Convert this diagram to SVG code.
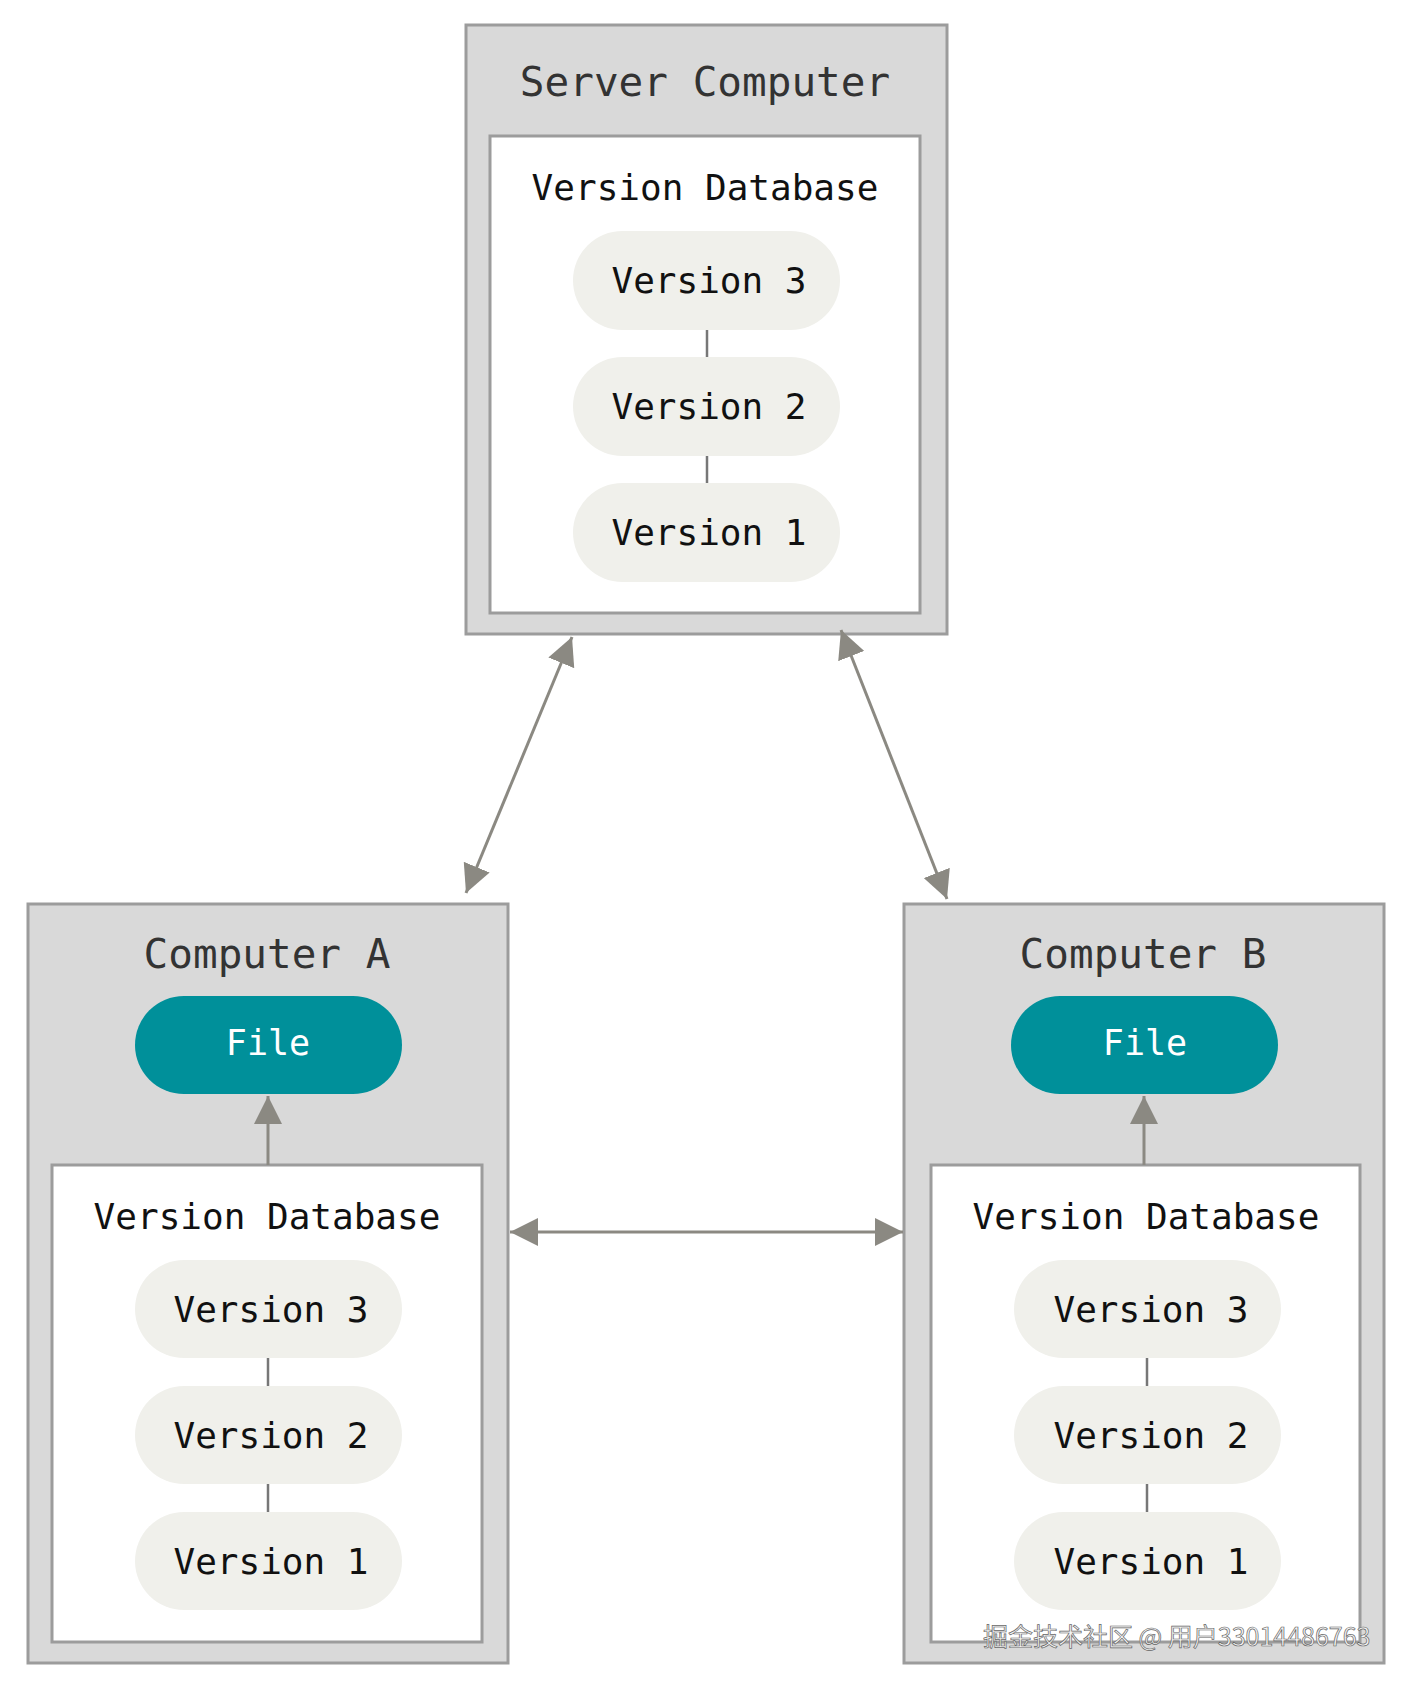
<svg xmlns="http://www.w3.org/2000/svg" width="1413" height="1692" viewBox="0 0 1413 1692">
  <style>
    .outer { fill: #d9d9d9; stroke: #9c9c9c; stroke-width: 3; }
    .inner { fill: #ffffff; stroke: #9c9c9c; stroke-width: 3; }
    .pill { fill: #f0f0eb; }
    .file { fill: #00909a; }
    .title { font-family: "DejaVu Sans Mono", "Liberation Mono", monospace; font-size: 41px; fill: #333333; text-anchor: middle; }
    .label { font-family: "DejaVu Sans Mono", "Liberation Mono", monospace; font-size: 36px; fill: #111111; text-anchor: middle; }
    .filelabel { font-family: "DejaVu Sans Mono", "Liberation Mono", monospace; font-size: 35px; fill: #ffffff; text-anchor: middle; }
    .link { stroke: #777777; stroke-width: 2.5; fill: none; }
    .arrow { stroke: #8b8982; stroke-width: 3; fill: none; }
    .wm { font-family: "Noto Sans CJK SC", "Liberation Sans", sans-serif; font-size: 25px; fill: #f4f4f4; stroke: #666666; stroke-width: 0.7; }
  </style>
  <defs>
    <marker id="ah" markerUnits="userSpaceOnUse" markerWidth="28" markerHeight="28" viewBox="0 0 27 27" refX="27" refY="13.5" orient="auto-start-reverse">
      <path d="M0,0 L27,13.5 L0,27 z" fill="#8b8982"/>
    </marker>
  </defs>

  <rect width="1413" height="1692" fill="#ffffff"/>

  <g id="server">
    <rect class="outer" x="466" y="25" width="481" height="609"/>
    <text class="title" x="705" y="96">Server Computer</text>
    <rect class="inner" x="490" y="136" width="430" height="477"/>
    <text class="label" x="705" y="200">Version Database</text>
    <line class="link" x1="707" y1="330" x2="707" y2="357"/>
    <line class="link" x1="707" y1="456" x2="707" y2="483"/>
    <g id="server-v3"><rect class="pill" x="573" y="231" width="267" height="99" rx="49.5"/><text class="label" x="709" y="293">Version 3</text></g>
    <g id="server-v2"><rect class="pill" x="573" y="357" width="267" height="99" rx="49.5"/><text class="label" x="709" y="419">Version 2</text></g>
    <g id="server-v1"><rect class="pill" x="573" y="483" width="267" height="99" rx="49.5"/><text class="label" x="709" y="545">Version 1</text></g>
  </g>

  <g id="computer-a">
    <rect class="outer" x="28" y="904" width="480" height="759"/>
    <text class="title" x="267" y="968">Computer A</text>
    <g id="a-file"><rect class="file" x="135" y="996" width="267" height="98" rx="49"/><text class="filelabel" x="268" y="1055">File</text></g>
    <rect class="inner" x="52" y="1165" width="430" height="477"/>
    <text class="label" x="267" y="1229">Version Database</text>
    <line class="link" x1="268" y1="1358" x2="268" y2="1386"/>
    <line class="link" x1="268" y1="1484" x2="268" y2="1512"/>
    <g id="a-v3"><rect class="pill" x="135" y="1260" width="267" height="98" rx="49"/><text class="label" x="271" y="1322">Version 3</text></g>
    <g id="a-v2"><rect class="pill" x="135" y="1386" width="267" height="98" rx="49"/><text class="label" x="271" y="1448">Version 2</text></g>
    <g id="a-v1"><rect class="pill" x="135" y="1512" width="267" height="98" rx="49"/><text class="label" x="271" y="1574">Version 1</text></g>
  </g>

  <g id="computer-b">
    <rect class="outer" x="904" y="904" width="480" height="759"/>
    <text class="title" x="1143" y="968">Computer B</text>
    <g id="b-file"><rect class="file" x="1011" y="996" width="267" height="98" rx="49"/><text class="filelabel" x="1145" y="1055">File</text></g>
    <rect class="inner" x="931" y="1165" width="429" height="477"/>
    <text class="label" x="1146" y="1229">Version Database</text>
    <line class="link" x1="1147" y1="1358" x2="1147" y2="1386"/>
    <line class="link" x1="1147" y1="1484" x2="1147" y2="1512"/>
    <g id="b-v3"><rect class="pill" x="1014" y="1260" width="267" height="98" rx="49"/><text class="label" x="1151" y="1322">Version 3</text></g>
    <g id="b-v2"><rect class="pill" x="1014" y="1386" width="267" height="98" rx="49"/><text class="label" x="1151" y="1448">Version 2</text></g>
    <g id="b-v1"><rect class="pill" x="1014" y="1512" width="267" height="98" rx="49"/><text class="label" x="1151" y="1574">Version 1</text></g>
  </g>

  <g id="connectors">
    <line class="arrow" x1="466" y1="893" x2="572" y2="637" marker-start="url(#ah)" marker-end="url(#ah)"/>
    <line class="arrow" x1="947" y1="899" x2="841" y2="630" marker-start="url(#ah)" marker-end="url(#ah)"/>
    <line class="arrow" x1="510" y1="1232" x2="903" y2="1232" marker-start="url(#ah)" marker-end="url(#ah)"/>
    <line class="arrow" x1="268" y1="1165" x2="268" y2="1096" marker-end="url(#ah)"/>
    <line class="arrow" x1="1144" y1="1165" x2="1144" y2="1096" marker-end="url(#ah)"/>
  </g>

  <text class="wm" x="983" y="1646">掘金技术社区 @ 用户33014486763</text>
</svg>
